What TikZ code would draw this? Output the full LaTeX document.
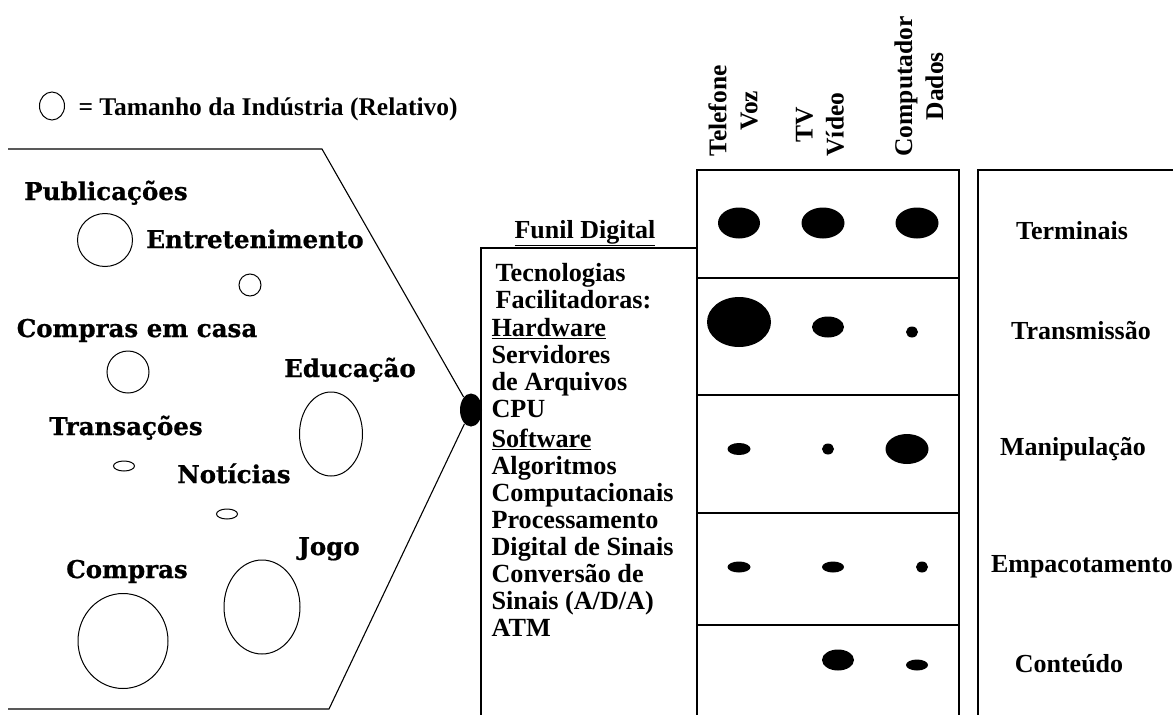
\documentclass[tikz,border=0pt]{standalone}
\usepackage{fontspec}
\setmainfont{Liberation Serif}
\newfontfamily\slabfont[BoldFeatures={FakeBold=0.8}]{DejaVu Serif}
\usetikzlibrary{positioning, shapes.geometric}

\tikzset{
    industry/.style={font=\slabfont\bfseries\fontsize{24.5}{28}\selectfont, inner sep=0, anchor=base},
    bubble/.style={draw, ellipse, inner sep=0, line width=1pt},
    blob/.style={fill, ellipse, inner sep=0},
    tech/.style={font=\bfseries\fontsize{26.2}{27}\selectfont, inner sep=0},
    layer/.style={font=\bfseries\fontsize{26}{30}\selectfont, inner sep=0, anchor=base},
    media/.style={font=\bfseries\fontsize{25.5}{31}\selectfont, rotate=90, anchor=west, align=center, inner sep=0}
}

\begin{document}
\begin{tikzpicture}[x=1pt, y=-1pt, line width=1.1pt]
    \useasboundingbox (0,0) rectangle (1173,715);
    \clip (0,0) rectangle (1173,715);

    % legend
    \node[bubble, minimum width=25pt, minimum height=28pt] (key) at (52,106) {};
    \node[layer, anchor=base west, font=\bfseries\fontsize{25.5}{30}\selectfont] (keytext) at (78,115) {= Tamanho da Indústria (Relativo)};

    % funnel of industries
    \node[blob, minimum width=22pt, minimum height=33pt] (neck) at (471,410) {};
    \coordinate (tl) at (8,149);
    \coordinate (tr) at (322,149);
    \coordinate (br) at (329,709);
    \coordinate (bl) at (8,709);
    \draw (tl) -- (tr) -- (neck);
    \draw (neck) -- (br) -- (bl);

    \node[industry] (pub) at (106,200) {Publicações};
    \node[bubble, minimum width=55pt, minimum height=53pt] (pubsize) at (105,240) {};
    \node[industry] (ent) at (255,248) {Entretenimento};
    \node[bubble, minimum width=22pt, minimum height=22pt] (entsize) at (250,285) {};
    \node[industry] (home) at (137,337) {Compras em casa};
    \node[bubble, minimum width=42pt, minimum height=42pt] (homesize) at (128,372) {};
    \node[industry] (edu) at (350,377) {Educação};
    \node[bubble, minimum width=63pt, minimum height=84pt] (edusize) at (331,434) {};
    \node[industry] (trans) at (126,435) {Transações};
    \node[bubble, minimum width=21pt, minimum height=10pt] (transsize) at (124,466) {};
    \node[industry] (news) at (234,483) {Notícias};
    \node[bubble, minimum width=21pt, minimum height=10pt] (newssize) at (227,514) {};
    \node[industry] (game) at (329,555) {Jogo};
    \node[bubble, minimum width=76pt, minimum height=94pt] (gamesize) at (262,607) {};
    \node[industry] (shop) at (127,578) {Compras};
    \node[bubble, minimum width=90pt, minimum height=95pt] (shopsize) at (123,641) {};

    % digital funnel
    \node[layer] (funil) at (585,238) {\underline{Funil Digital}};
    \draw (481,760) -- (481,248) -- (697,248);
    \node[tech, align=left, anchor=north west] (techs) at (491,263) {%
        \hspace{4pt}Tecnologias\\
        \hspace{4pt}Facilitadoras:\\[1pt]
        \underline{Hardware}\\
        Servidores\\
        de Arquivos\\
        CPU\\[3pt]
        \underline{Software}\\
        Algoritmos\\
        Computacionais\\
        Processamento\\
        Digital de Sinais\\
        Conversão de\\
        Sinais (A/D/A)\\
        ATM};

    % media columns
    \node[media] (voice) at (733,157) {Telefone\\Voz};
    \node[media] (video) at (820,157) {TV\\Vídeo};
    \node[media] (data) at (919,157) {Computador\\Dados};

    \draw (697,760) -- (697,170) -- (959,170) -- (959,760);
    \foreach \y in {278,395,513,625}
        \draw (697,\y) -- (959,\y);
    \draw (978,760) -- (978,170) -- (1200,170);

    % relative weight of each layer
    \foreach \x/\y/\w/\h [count=\i] in {
        739/223/42/31, 823/223/43/31, 917/223/43/31,
        739/322/64/50, 828/327/32/21, 912/332/12/11,
        739/449/23/12, 828/449/12/11, 907/449/43/30,
        739/567/23/11, 833/567/22/11, 922/567/12/11,
        838/660/32/21, 917/665/22/11}
        \node[blob, minimum width=\w pt, minimum height=\h pt] (w\i) at (\x,\y) {};

    % layers
    \node[layer] (term) at (1072,239) {Terminais};
    \node[layer] (tx) at (1081,339) {Transmissão};
    \node[layer] (manip) at (1073,455) {Manipulação};
    \node[layer] (pack) at (1082,572) {Empacotamento};
    \node[layer] (cont) at (1069,672) {Conteúdo};
\end{tikzpicture}
\end{document}
